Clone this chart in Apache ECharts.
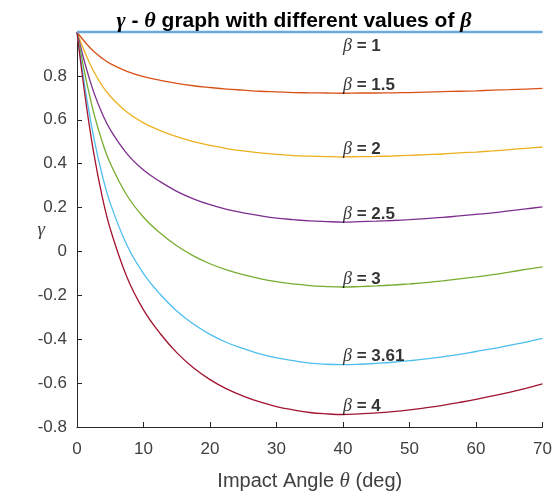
<!DOCTYPE html>
<html>
<head>
<meta charset="utf-8">
<script src="https://cdn.jsdelivr.net/npm/echarts@6/dist/echarts.min.js"></script>
<style>
  html, body { margin: 0; padding: 0; background: #ffffff; }
  #chart { width: 554px; height: 494px; }
</style>
</head>
<body>
<div id="chart"></div>
<script>
// Impact angle samples (deg)
const theta = [0, 1.25, 2.5, 3.75, 5, 7.5, 10, 12.5, 15, 17.5, 20, 22.5, 25, 27.5, 30, 32.5, 35, 37.5, 40, 42.5, 45, 47.5, 50, 52.5, 55, 57.5, 60, 62.5, 65, 67.5, 70];

// gamma for each beta, sampled at the angles above
const gammaB1   = [1, 1, 1, 1, 1, 1, 1, 1, 1, 1, 1, 1, 1, 1, 1, 1, 1, 1, 1, 1, 1, 1, 1, 1, 1, 1, 1, 1, 1, 1, 1];
const gammaB15  = [1, 0.952, 0.912, 0.881, 0.856, 0.821, 0.797, 0.780, 0.766, 0.755, 0.747, 0.740, 0.735, 0.730, 0.727, 0.724, 0.723, 0.722, 0.721, 0.722, 0.722, 0.723, 0.724, 0.726, 0.728, 0.730, 0.732, 0.735, 0.737, 0.740, 0.743];
const gammaB2   = [1, 0.902, 0.821, 0.757, 0.707, 0.635, 0.586, 0.551, 0.523, 0.500, 0.483, 0.469, 0.458, 0.449, 0.442, 0.437, 0.434, 0.432, 0.431, 0.432, 0.433, 0.435, 0.438, 0.441, 0.444, 0.449, 0.453, 0.458, 0.464, 0.470, 0.476];
const gammaB25  = [1, 0.851, 0.727, 0.631, 0.555, 0.446, 0.371, 0.318, 0.274, 0.240, 0.213, 0.192, 0.176, 0.163, 0.152, 0.145, 0.139, 0.136, 0.134, 0.136, 0.138, 0.141, 0.145, 0.150, 0.155, 0.162, 0.169, 0.176, 0.185, 0.194, 0.203];
const gammaB3   = [1, 0.800, 0.634, 0.504, 0.402, 0.256, 0.156, 0.084, 0.026, -0.020, -0.056, -0.084, -0.106, -0.124, -0.138, -0.148, -0.156, -0.160, -0.162, -0.160, -0.157, -0.153, -0.148, -0.142, -0.134, -0.125, -0.116, -0.106, -0.094, -0.082, -0.070];
const gammaB361 = [1, 0.739, 0.522, 0.353, 0.220, 0.029, -0.101, -0.195, -0.271, -0.331, -0.378, -0.415, -0.443, -0.467, -0.485, -0.498, -0.509, -0.514, -0.516, -0.514, -0.510, -0.505, -0.498, -0.490, -0.480, -0.469, -0.456, -0.443, -0.428, -0.413, -0.396];
const gammaB4   = [1, 0.700, 0.451, 0.256, 0.103, -0.116, -0.266, -0.374, -0.461, -0.530, -0.584, -0.626, -0.659, -0.686, -0.707, -0.722, -0.734, -0.740, -0.743, -0.740, -0.736, -0.730, -0.722, -0.712, -0.701, -0.688, -0.674, -0.658, -0.642, -0.624, -0.604];

const betaLabels = ['1', '1.5', '2', '2.5', '3', '3.61', '4'];
const xTicks = [0, 10, 20, 30, 40, 50, 60, 70];
const yTicks = [-0.8, -0.6, -0.4, -0.2, 0, 0.2, 0.4, 0.6, 0.8];

const curves = [gammaB1, gammaB15, gammaB2, gammaB25, gammaB3, gammaB361, gammaB4];
const colors = ['#6aaadf', '#d95319', '#edb120', '#7e2f8e', '#77ac30', '#4dbeee', '#a2142f'];
const labelAngle = 40;
const labelIdx = theta.indexOf(labelAngle);

const serif = '"Liberation Serif", "DejaVu Serif", serif';
const sans = '"Liberation Sans", Arial, Helvetica, sans-serif';
const axisColor = '#262626';
const textColor = '#404040';

const lineSeries = curves.map((vals, i) => ({
  type: 'line',
  name: 'beta ' + betaLabels[i],
  data: theta.map((t, j) => [t, vals[j]]),
  showSymbol: false,
  smooth: 0.4,
  clip: false,
  lineStyle: { color: colors[i], width: i === 0 ? 2.5 : 1.3 },
  z: i === 0 ? 5 : 3
}));

const labelSeries = {
  type: 'scatter',
  symbolSize: 0,
  silent: true,
  z: 10,
  data: curves.map((vals, i) => ({
    value: [labelAngle, vals[labelIdx]],
    label: {
      show: true,
      position: [0, 0],
      align: 'left',
      verticalAlign: i === 0 ? 'top' : 'bottom',
      offset: i === 0 ? [0, 5] : [0, 1],
      formatter: '{b|β}{n| = ' + betaLabels[i] + '}',
      rich: {
        b: { fontFamily: serif, fontStyle: 'italic', fontSize: 18, color: '#000' },
        n: { fontFamily: sans, fontWeight: 'bold', fontSize: 17, color: '#000' }
      }
    }
  }))
};

const chart = echarts.init(document.getElementById('chart'), null, { renderer: 'canvas' });
chart.setOption({
  animation: false,
  backgroundColor: '#ffffff',
  title: {
    text: '{g|γ}{t| - }{g|θ}{t| graph with different values of }{g|β}',
    left: 289,
    textAlign: 'center',
    top: 5,
    textStyle: {
      rich: {
        g: { fontFamily: serif, fontStyle: 'italic', fontSize: 22, color: '#000' },
        t: { fontFamily: sans, fontWeight: 'bold', fontSize: 21, color: '#000' }
      }
    }
  },
  grid: { left: 77, right: 11.5, top: 32, bottom: 67, outerBoundsMode: 'none' },
  xAxis: {
    type: 'value',
    min: xTicks[0],
    max: xTicks[xTicks.length - 1],
    interval: 10,
    name: '{t|Impact Angle }{g|θ}{t| (deg)}',
    nameLocation: 'middle',
    nameGap: 44,
    nameMoveOverlap: false,
    nameTextStyle: {
      rich: {
        t: { fontFamily: sans, fontSize: 20, color: textColor },
        g: { fontFamily: serif, fontStyle: 'italic', fontSize: 21, color: textColor }
      }
    },
    axisLine: { show: true, onZero: false, lineStyle: { color: axisColor, width: 1 } },
    axisTick: { show: true, inside: true, length: 5, lineStyle: { color: axisColor } },
    axisLabel: { fontFamily: sans, fontSize: 17, color: textColor, margin: 14 },
    splitLine: { show: false }
  },
  yAxis: {
    type: 'value',
    min: yTicks[0],
    max: 1,
    interval: 0.2,
    name: 'γ',
    nameLocation: 'middle',
    nameGap: 32,
    nameRotate: 0,
    nameMoveOverlap: false,
    nameTextStyle: { fontFamily: serif, fontStyle: 'italic', fontSize: 19, color: textColor },
    axisLine: { show: true, onZero: false, lineStyle: { color: axisColor, width: 1 } },
    axisTick: { show: true, inside: true, length: 5, lineStyle: { color: axisColor } },
    axisLabel: {
      fontFamily: sans, fontSize: 17, color: textColor, margin: 10,
      formatter: v => {
        const r = Math.round(v * 10) / 10;
        if (r > 0.9) return '';
        return yTicks.indexOf(r) >= 0 ? String(r) : '';
      }
    },
    splitLine: { show: false }
  },
  series: lineSeries.concat([labelSeries])
});
</script>
</body>
</html>
